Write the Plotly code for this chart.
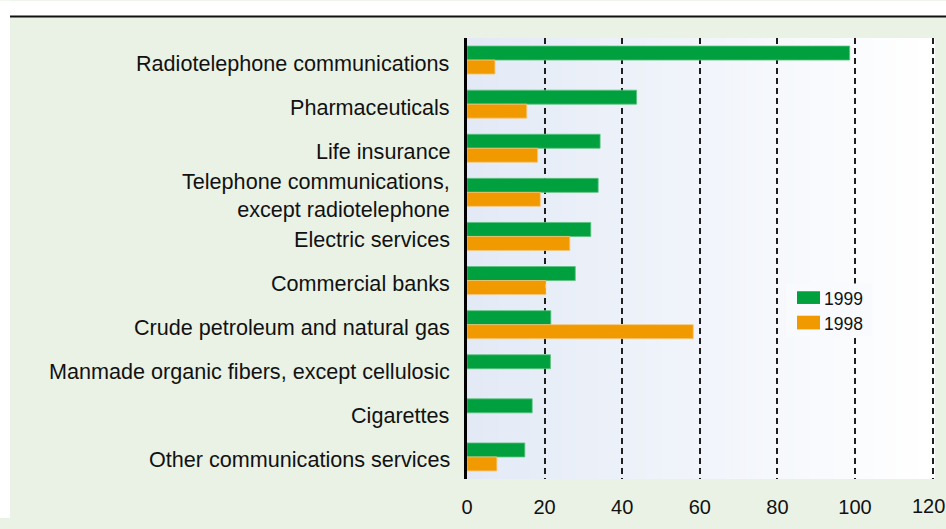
import plotly.graph_objects as go

# Industries ranked top to bottom
categories = [
    "Radiotelephone communications",
    "Pharmaceuticals",
    "Life insurance",
    "Telephone communications, except radiotelephone",
    "Electric services",
    "Commercial banks",
    "Crude petroleum and natural gas",
    "Manmade organic fibers, except cellulosic",
    "Cigarettes",
    "Other communications services",
]
# how each category name is broken into lines on the axis
category_lines = [
    ["Radiotelephone communications"],
    ["Pharmaceuticals"],
    ["Life insurance"],
    ["Telephone communications,", "except radiotelephone"],
    ["Electric services"],
    ["Commercial banks"],
    ["Crude petroleum and natural gas"],
    ["Manmade organic fibers, except cellulosic"],
    ["Cigarettes"],
    ["Other communications services"],
]
values_1999 = [98.6, 43.7, 34.3, 33.8, 31.9, 27.9, 21.6, 21.5, 16.8, 14.9]
values_1998 = [7.2, 15.4, 18.2, 18.9, 26.5, 20.3, 58.3, None, None, 7.7]
x_ticks = [0, 20, 40, 60, 80, 100, 120]
x_max = 120.6

GREEN = "#00a03f"
ORANGE = "#f09a00"
PANEL = "#eaf2e6"
INK = "#111111"
FONT = "Liberation Sans, Arial, Helvetica, sans-serif"

W, H = 946, 529
L, R, T, B = 467, 11, 38, 40
pw, ph = W - L - R, H - T - B


def px_x(p):
    return (p - L) / pw


def px_y(p):
    return (H - B - p) / ph


fig = go.Figure()
fig.add_trace(go.Bar(
    y=categories, x=values_1999, name="1999", orientation="h",
    marker=dict(color=GREEN, line=dict(color="#5cc27e", width=0.8)),
))
fig.add_trace(go.Bar(
    y=categories, x=values_1998, name="1998", orientation="h",
    marker=dict(color=ORANGE, line=dict(color="#f6c77a", width=0.8)),
))

shapes = []
# white strip above the top rule and down the left edge
shapes.append(dict(type="rect", xref="paper", yref="paper",
                   x0=px_x(0), x1=px_x(W), y0=px_y(16), y1=px_y(0),
                   fillcolor="white", line=dict(width=0), layer="below"))
shapes.append(dict(type="rect", xref="paper", yref="paper",
                   x0=px_x(0), x1=px_x(10), y0=px_y(H), y1=px_y(0),
                   fillcolor="white", line=dict(width=0), layer="below"))
# top rule
shapes.append(dict(type="line", xref="paper", yref="paper",
                   x0=px_x(10), x1=px_x(W), y0=px_y(16), y1=px_y(16),
                   line=dict(color=INK, width=2.2), layer="above"))
# plot area: soft blue-to-white horizontal gradient
n = 60
c0 = (227, 234, 246)
c1 = (255, 255, 255)


def grad(t):
    return tuple(round(a + (b - a) * t) for a, b in zip(c0, c1))


for i in range(n):
    c = grad(i / (n - 1))
    shapes.append(dict(type="rect", xref="paper", yref="paper",
                       x0=i / n, x1=min(1.0, (i + 1) / n + 0.002), y0=0, y1=1,
                       fillcolor="rgb(%d,%d,%d)" % c, line=dict(width=0),
                       layer="below"))

# legend box (hides the gridline behind it) with swatches
shapes.append(dict(type="rect", xref="paper", yref="paper",
                   x0=px_x(786), x1=px_x(872), y0=px_y(343), y1=px_y(289),
                   fillcolor="rgb(%d,%d,%d)" % grad(0.76), line=dict(width=0),
                   layer="above"))
legend_items = [("1999", GREEN, 297, 310), ("1998", ORANGE, 322, 336)]
annotations = []
for label, color, top, bot in legend_items:
    shapes.append(dict(type="rect", xref="paper", yref="paper",
                       x0=px_x(797), x1=px_x(820), y0=px_y(bot), y1=px_y(top),
                       fillcolor=color, line=dict(width=0), layer="above"))
    annotations.append(dict(xref="paper", yref="paper", x=px_x(822),
                            y=px_y((top + bot) / 2 + 1), text=label,
                            showarrow=False, xanchor="left", yanchor="middle",
                            font=dict(family=FONT, size=17.5, color=INK)))

# category labels, right-aligned against the axis
for cat, lines in zip(categories, category_lines):
    annotations.append(dict(xref="paper", yref="y", x=0, y=cat,
                            xshift=-15, yshift=-3, text="<br>".join(lines),
                            showarrow=False, xanchor="right", yanchor="middle",
                            align="right",
                            font=dict(family=FONT, size=21.6, color=INK)))

# last tick label sits on the right edge of the page
annotations.append(dict(xref="x", yref="paper", x=x_ticks[-1], y=0,
                        yshift=-14, xshift=-4, text=str(x_ticks[-1]),
                        showarrow=False, xanchor="center", yanchor="top",
                        font=dict(family=FONT, size=20, color=INK)))

fig.update_layout(
    width=W, height=H, autosize=False,
    margin=dict(l=L, r=R, t=T, b=B, pad=0),
    paper_bgcolor=PANEL,
    plot_bgcolor="rgba(0,0,0,0)",
    barmode="group",
    bargap=0.365,
    bargroupgap=0,
    showlegend=False,
    shapes=shapes,
    annotations=annotations,
    font=dict(family=FONT, color=INK),
    xaxis=dict(
        range=[0, x_max], tickvals=x_ticks, ticktext=[str(v) for v in x_ticks],
        showgrid=True, gridcolor="#1e1e1e", gridwidth=1.5, griddash="6px,4px",
        zeroline=False, showline=False, ticks="",
        ticklabelstandoff=14,
        tickfont=dict(family=FONT, size=20, color=INK),
        fixedrange=True,
    ),
    yaxis=dict(
        autorange="reversed", showgrid=False, zeroline=False,
        showline=True, linecolor="#000000", linewidth=3, ticks="",
        showticklabels=False,
        fixedrange=True,
    ),
)

fig.write_html("out.html", config={"responsive": False, "displayModeBar": False})
